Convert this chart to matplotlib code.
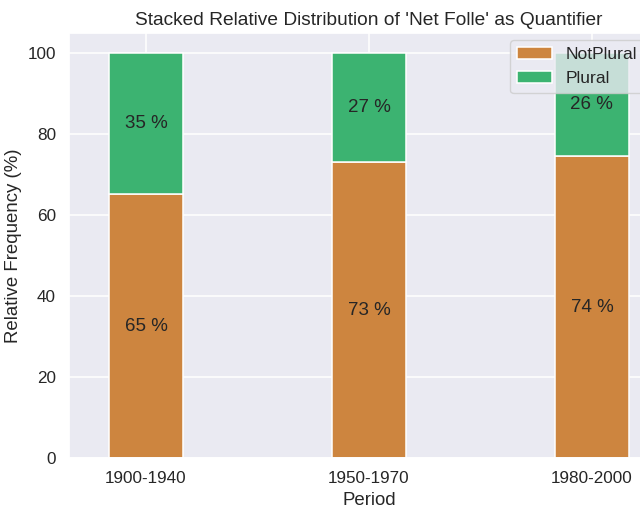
import matplotlib
matplotlib.use('Agg')
import matplotlib.pyplot as plt
import seaborn as sns
import numpy as np

sns.set_theme(style='darkgrid')
plt.rcParams['font.family'] = ['Liberation Sans', 'DejaVu Sans']

periods = ['1900-1940', '1950-1970', '1980-2000']
not_plural = [65.2, 73.1, 74.5]
plural = [34.8, 26.9, 25.5]

fig = plt.figure(figsize=(6.4, 5.12), dpi=100)
ax = fig.add_axes([0.108, 0.1055, 0.937, 0.83])

x = np.arange(len(periods))
width = 0.33

ax.bar(x, not_plural, width, color='peru', edgecolor='white', linewidth=1.1, label='NotPlural')
ax.bar(x, plural, width, bottom=not_plural, color='mediumseagreen', edgecolor='white', linewidth=1.1, label='Plural')

# percentage labels in the middle of each segment
for i in range(len(periods)):
    ax.text(x[i], not_plural[i] / 2, '%.0f %%' % not_plural[i], ha='center', va='center', fontsize=13.5, color='#262626')
    ax.text(x[i], not_plural[i] + plural[i] / 2, '%.0f %%' % plural[i], ha='center', va='center', fontsize=13.5, color='#262626')

ax.set_xticks(x)
ax.set_xticklabels(periods)
ax.set_xlim(-0.345, 2.345)
ax.set_ylim(0, 105)
ax.tick_params(labelsize=12.3)
ax.grid(linewidth=1.1)
ax.set_xlabel('Period', fontsize=13.4)
ax.set_ylabel('Relative Frequency (%)', fontsize=13.4)
ax.set_title("Stacked Relative Distribution of 'Net Folle' as Quantifier", fontsize=13.8)
# legend sits against the right edge like in the original (box runs off the figure)
ax.legend(loc='upper left', bbox_to_anchor=(510 / 640, 1 - 40 / 512),
          bbox_transform=fig.transFigure, borderaxespad=0, fontsize=12.6)

fig.savefig('out.png', dpi=100)
